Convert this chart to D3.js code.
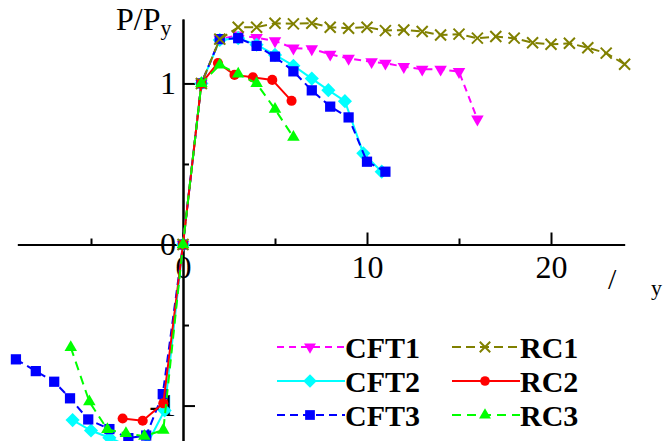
<!DOCTYPE html>
<html>
<head>
<meta charset="utf-8">
<script src="https://cdn.jsdelivr.net/npm/d3@7"></script>
<style>
body { margin: 0; background: #fff; }
</style>
</head>
<body>
<svg id="chart" width="672" height="441"></svg>
<script>
// values, [drift ratio, P/Py]
const cft1 = [[0, 0], [1, 1], [2, 1.275], [3, 1.30], [4, 1.284], [5, 1.264], [6, 1.219], [7, 1.214], [8, 1.181],
    [9, 1.155], [10.25, 1.134], [11, 1.125], [12, 1.104], [13, 1.088], [14, 1.088], [15, 1.073], [16, 0.778]];
const cft2 = [[-6, -1.09], [-5, -1.155], [-4, -1.2], [-3, -1.25], [-2, -1.25], [-1, -1.03], [0, 0], [1, 1],
    [2, 1.27], [3, 1.281], [4, 1.24], [5, 1.177], [6, 1.11], [7, 1.03], [7.9, 0.958], [8.8, 0.89], [9.8, 0.566], [10.8, 0.452]];
const cft3 = [[-9.08, -0.713], [-8, -0.786], [-7, -0.852], [-6.14, -0.955], [-5.15, -1.086], [-4, -1.146], [-2.97, -1.202],
    [-2, -1.186], [-1.1, -0.929], [0, 0], [1, 1], [2, 1.275], [3, 1.281], [4, 1.233], [5, 1.166], [6, 1.075], [7, 0.957],
    [8, 0.856], [9, 0.789], [10, 0.514], [11, 0.452]];
const rc1 = [[0, 0], [1, 1], [2, 1.275], [3, 1.349], [4, 1.349], [5, 1.374], [6, 1.370], [7, 1.374], [8, 1.349], [9, 1.343],
    [10, 1.349], [11, 1.328], [12, 1.332], [13, 1.322], [14, 1.301], [15, 1.306], [16, 1.281], [17, 1.291], [18, 1.281],
    [19, 1.253], [20, 1.243], [21, 1.249], [22, 1.222], [23, 1.188], [24, 1.119]];
const rc2 = [[-3.28, -1.08], [-2.19, -1.094], [-1.07, -0.986], [0, 0], [1, 1], [1.9, 1.127], [2.8, 1.053],
    [3.8, 1.038], [4.85, 1.022], [5.9, 0.892]];
const rc3 = [[-6.1, -0.639], [-5.09, -0.976], [-4.11, -1.148], [-3.1, -1.173], [-2.1, -1.19], [-1.07, -1.152],
    [0, 0], [1, 1], [2, 1.115], [3, 1.059], [4, 1.0], [5, 0.84], [6, 0.666]];

const xMajor = [0, 10, 20];
const xMinor = [-5, 5, 15];
const yMajor = [-1, 0, 1];
const yMinor = [-0.5, 0.5];

const series = [
    {name: "CFT1", data: cft1, color: "#ff00ff", dash: "7,5", marker: "down"},
    {name: "CFT2", data: cft2, color: "#00ffff", dash: null, marker: "diamond"},
    {name: "CFT3", data: cft3, color: "#0000ff", dash: "8,5", marker: "square"},
    {name: "RC1", data: rc1, color: "#808000", dash: "9,5", marker: "x"},
    {name: "RC2", data: rc2, color: "#ff0000", dash: null, marker: "circle"},
    {name: "RC3", data: rc3, color: "#00ff00", dash: "9,6", marker: "up"}
];

const serif = "'Liberation Serif', Tinos, 'Times New Roman', Times, 'DejaVu Serif', serif";

const svg = d3.select("#chart");
svg.append("rect").attr("width", 672).attr("height", 441).attr("fill", "#fff");

const x = d3.scaleLinear([-9, 24], [17.4, 624.6]);
const y = d3.scaleLinear([-1.4, 1.4], [470, 19]);

function styleAxis(g) {
    g.selectAll("path, line").attr("stroke", "#000").attr("stroke-width", 2);
    g.selectAll("text").style("font-family", serif).style("font-size", "32px").attr("fill", "#000");
}

// x axis, ticks pointing up
svg.append("g")
    .attr("transform", `translate(0,${y(0)})`)
    .call(d3.axisBottom(x).tickValues(xMinor).tickSize(-6).tickSizeOuter(0).tickFormat(""))
    .call(styleAxis);
svg.append("g")
    .attr("transform", `translate(0,${y(0)})`)
    .call(d3.axisBottom(x).tickValues(xMajor).tickSize(-12).tickSizeOuter(0).tickPadding(11).tickFormat(d => String(d)))
    .call(styleAxis);

// y axis, ticks pointing right
svg.append("g")
    .attr("transform", `translate(${x(0)},0)`)
    .call(d3.axisLeft(y).tickValues(yMinor).tickSize(-6).tickSizeOuter(0).tickFormat(""))
    .call(styleAxis);
svg.append("g")
    .attr("transform", `translate(${x(0)},0)`)
    .call(d3.axisLeft(y).tickValues(yMajor).tickSize(-12).tickSizeOuter(0).tickPadding(7).tickFormat(d => String(d)))
    .call(styleAxis);

// axis titles
const yTitle = svg.append("text").attr("x", 116).attr("y", 30).style("font-family", serif).style("font-size", "32px");
yTitle.append("tspan").text("P/P");
yTitle.append("tspan").style("font-size", "22px").attr("dy", 5).text("y");
svg.append("text").attr("x", 608).attr("y", 289).style("font-family", serif).style("font-size", "30px").text("/");
svg.append("text").attr("x", 651).attr("y", 295).style("font-family", serif).style("font-size", "22px").text("y");

const crossType = {
    draw(ctx, size) {
        const r = Math.sqrt(size) / 2;
        ctx.moveTo(-r, -r); ctx.lineTo(r, r);
        ctx.moveTo(-r, r); ctx.lineTo(r, -r);
    }
};

function markerPath(kind, scale) {
    const s = scale || 1;
    if (kind === "square") return d3.symbol(d3.symbolSquare, 105 * s * s)();
    if (kind === "diamond") return d3.symbol(d3.symbolSquare, 100 * s * s)();
    if (kind === "circle") return d3.symbol(d3.symbolCircle, 80 * s * s)();
    if (kind === "up" || kind === "down") return d3.symbol(d3.symbolTriangle, 68 * s * s)();
    return d3.symbol(crossType, 121 * s * s)();
}

function drawMarker(g, kind, cx, cy, color, scale) {
    let rot = 0;
    if (kind === "diamond") rot = 45;
    if (kind === "down") rot = 180;
    const p = g.append("path")
        .attr("d", markerPath(kind, scale))
        .attr("transform", `translate(${cx},${cy}) rotate(${rot})`);
    if (kind === "x") p.attr("fill", "none").attr("stroke", color).attr("stroke-width", 2);
    else p.attr("fill", color);
}

const line = d3.line().x(d => x(d[0])).y(d => y(d[1]));

series.forEach(s => {
    const g = svg.append("g");
    g.append("path")
        .attr("d", line(s.data))
        .attr("fill", "none")
        .attr("stroke", s.color)
        .attr("stroke-width", 2)
        .attr("stroke-dasharray", s.dash);
    s.data.forEach(d => drawMarker(g, s.marker, x(d[0]), y(d[1]), s.color, 1));
});

// legend
const legRows = [347, 381, 415];
const legCols = [277, 452];
series.forEach((s, i) => {
    const lx = legCols[Math.floor(i / 3)];
    const ly = legRows[i % 3];
    const g = svg.append("g");
    g.append("line")
        .attr("x1", lx).attr("x2", lx + 68)
        .attr("y1", ly).attr("y2", ly)
        .attr("stroke", s.color).attr("stroke-width", 2)
        .attr("stroke-dasharray", s.dash);
    drawMarker(g, s.marker, lx + 33, ly, s.color, 0.95);
    g.append("text")
        .attr("x", lx + 68).attr("y", ly + 11)
        .style("font-family", serif).style("font-size", "30px").style("font-weight", "bold")
        .text(s.name);
});
</script>
</body>
</html>
